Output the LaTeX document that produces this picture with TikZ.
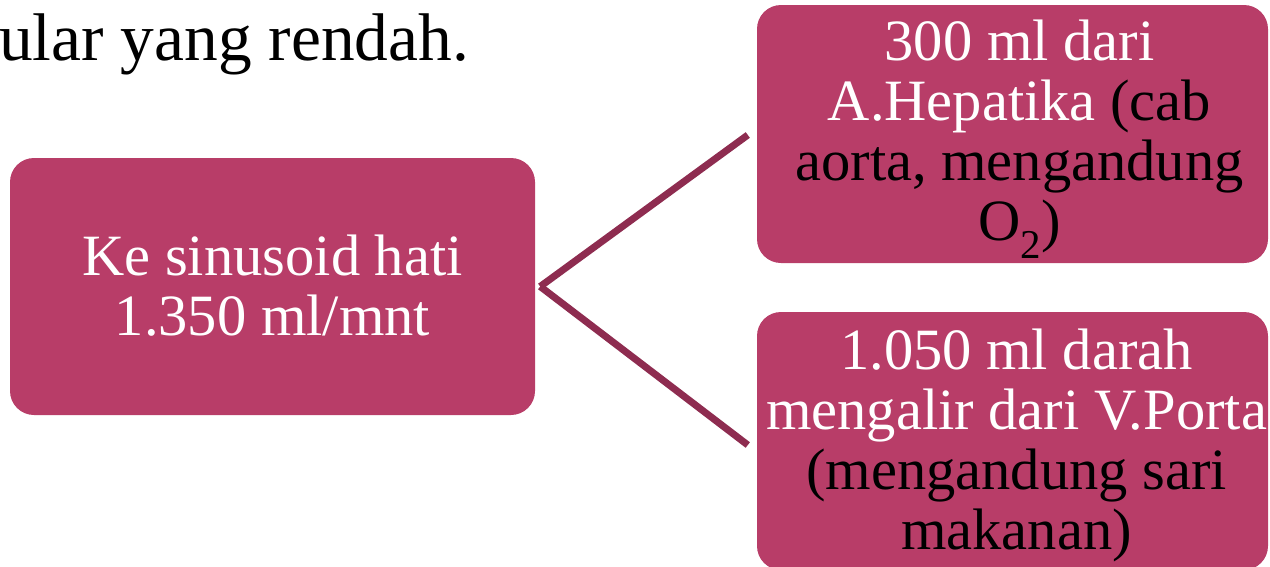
\documentclass[tikz,border=0pt]{standalone}
\usepackage{fontspec}
\setmainfont{Liberation Serif}
\definecolor{boxfill}{HTML}{B83D68}
\definecolor{linkcol}{HTML}{8E2C50}
\begin{document}
\begin{tikzpicture}[x=1pt,y=-1pt,
  flowbox/.style={fill=boxfill, draw=none, rounded corners=24pt, inner sep=0pt},
  boxtext/.style={inner sep=0pt, align=center, text=black,
    font=\fontsize{58.5}{60}\selectfont},
  link/.style={draw=linkcol, line width=7pt}]
  \useasboundingbox (0,0) rectangle (1270,566);
  % heading line running in from the left
  \node[anchor=base west, inner sep=0pt, font=\fontsize{67.4}{70}\selectfont] (head) at (-1,60) {ular yang rendah.};
  % boxes
  \node[flowbox, minimum width=525pt, minimum height=257pt] (src) at (272.5,286.5) {};
  \node[flowbox, minimum width=511pt, minimum height=258pt] (art) at (1012.5,134) {};
  \node[flowbox, minimum width=511pt, minimum height=258pt] (por) at (1012.5,441) {};
  % box texts (canvas shifts: negative yshift moves down)
  \node[boxtext] (srctxt) at ([yshift=1pt]src.center)
    {\textcolor{white}{Ke sinusoid hati}\\\textcolor{white}{1.350 ml/mnt}};
  \node[boxtext] (arttxt) at ([xshift=7pt,yshift=-5pt]art.center)
    {\textcolor{white}{300 ml dari}\\\textcolor{white}{A.Hepatika} (cab\\aorta, mengandung\\O\textsubscript{2})};
  \node[boxtext] (portxt) at ([xshift=4pt,yshift=-4.5pt]por.center)
    {\textcolor{white}{1.050 ml darah}\\\textcolor{white}{mengalir dari V.Porta}\\(mengandung sari\\makanan)};
  % fork connectors
  \coordinate (fork) at ([xshift=5pt]src.east);
  \coordinate (artin) at ([xshift=-9pt,yshift=-1pt]art.west);
  \coordinate (porin) at ([xshift=-9pt,yshift=-4pt]por.west);
  \draw[link] (fork) -- (artin);
  \draw[link] (fork) -- (porin);
\end{tikzpicture}
\end{document}
